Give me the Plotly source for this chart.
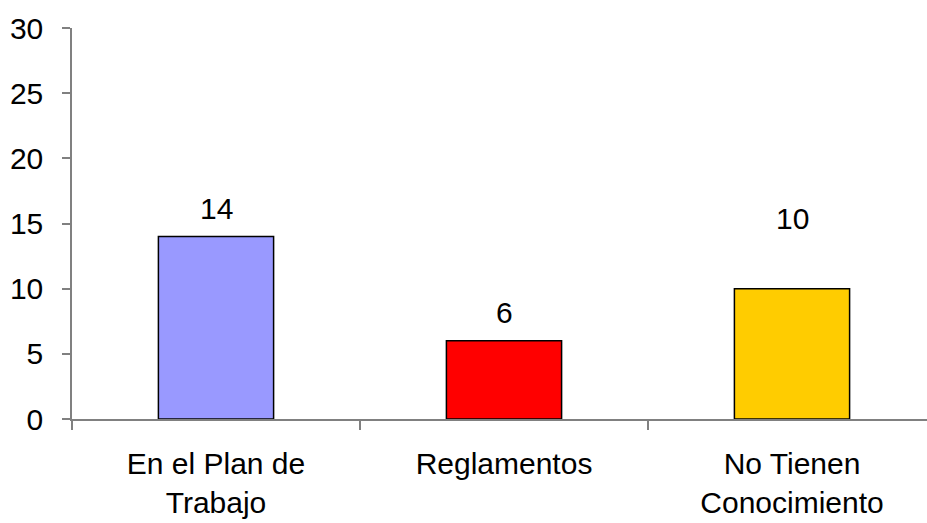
import plotly.graph_objects as go

categories = ["En el Plan de<br>Trabajo", "Reglamentos", "No Tienen<br>Conocimiento"]
values = [14, 6, 10]
colors = ["#9999FF", "#FF0000", "#FFCC00"]
label_shift = [28, 28, 70]  # px above bar top for the data labels

FONT = "Liberation Sans, Arial, sans-serif"
FS = 30

fig = go.Figure()
fig.add_trace(go.Bar(
    x=categories, y=values,
    marker=dict(color=colors, line=dict(color="#000000", width=1.5)),
    width=0.4, showlegend=False, hoverinfo="skip",
))

for c, v, s in zip(categories, values, label_shift):
    fig.add_annotation(x=c, y=v, text=str(v), showarrow=False,
                       yanchor="middle", yshift=s,
                       font=dict(family=FONT, size=FS, color="#000000"))

fig.update_layout(
    width=927, height=523,
    margin=dict(l=72, r=0, t=28, b=104),
    paper_bgcolor="white", plot_bgcolor="white",
    font=dict(family=FONT, size=FS, color="#000000"),
    xaxis=dict(
        type="category",
        range=[-0.5, -0.5 + 855 / 288], showgrid=False, zeroline=False,
        showline=True, linecolor="#808080", linewidth=1.5,
        ticks="outside", tickson="boundaries", ticklen=9, tickcolor="#808080", tickwidth=1.5,
        ticklabelstandoff=17,
    ),
    yaxis=dict(
        range=[0, 30], tickvals=[0, 5, 10, 15, 20, 25, 30], showgrid=False, zeroline=False,
        showline=True, linecolor="#808080", linewidth=1.5,
        ticks="outside", ticklen=8, tickcolor="#808080", tickwidth=1.5,
        ticklabelstandoff=13,
    ),
    bargap=0.6,
)

fig.write_html("out.html")
